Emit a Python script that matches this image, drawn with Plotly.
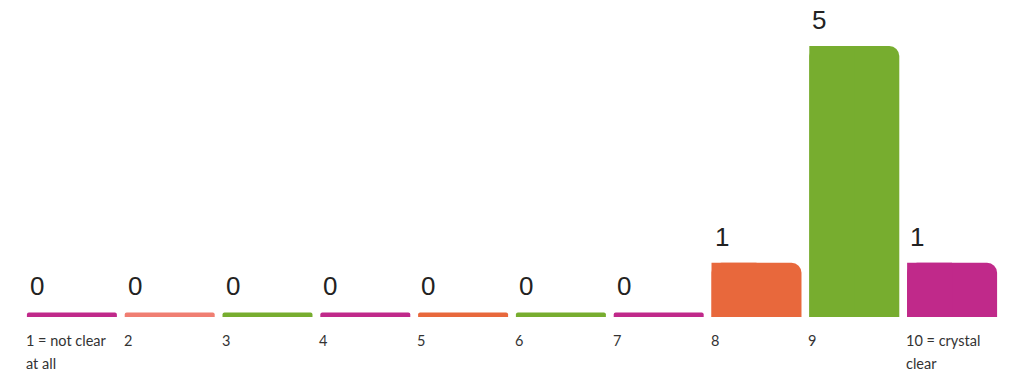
import plotly.graph_objects as go

categories = ["1 = not clear\nat all", "2", "3", "4", "5", "6", "7", "8", "9", "10 = crystal\nclear"]
values = [0, 0, 0, 0, 0, 0, 0, 1, 5, 1]
colors = ["#C0298A", "#F07E72", "#77AD2F", "#C0298A", "#E8683C",
          "#77AD2F", "#C0298A", "#E8683C", "#77AD2F", "#C0298A"]

BAR_W = 0.92
STUB = 0.085  # visual height of zero-value markers (data units)

xs = list(range(len(categories)))
fig = go.Figure()

# main bars (rounded top corners)
fig.add_trace(go.Bar(
    x=xs, y=values, width=BAR_W, marker=dict(color=colors, cornerradius=10, line_width=0),
    hoverinfo="skip"))
# left-half overlay to square the top-left corner
fig.add_trace(go.Bar(
    x=xs, y=values, width=BAR_W / 2, offset=-BAR_W / 2,
    marker=dict(color=colors, cornerradius=0, line_width=0), hoverinfo="skip"))
# zero-value markers
fig.add_trace(go.Bar(
    x=xs, y=[STUB if v == 0 else None for v in values], width=BAR_W,
    marker=dict(color=colors, cornerradius=2, line_width=0), hoverinfo="skip"))

annotations = []
for i, (c, v) in enumerate(zip(categories, values)):
    top = v if v > 0 else STUB
    annotations.append(dict(
        x=i - BAR_W / 2, y=top, xref="x", yref="y", text=str(v), showarrow=False,
        xanchor="left", yanchor="middle", xshift=1, yshift=26,
        font=dict(family="Liberation Sans, Arial", size=26, color="#222222")))
    for j, line in enumerate(c.split("\n")):
        annotations.append(dict(
            x=i - BAR_W / 2, y=0, xref="x", yref="y", text=line, showarrow=False,
            xanchor="left", yanchor="middle", xshift=-3, yshift=-23 - 23 * j,
            font=dict(family="Lato, Noto Sans", size=14.5, color="#333333")))

fig.update_layout(
    width=1024, height=392, barmode="overlay",
    margin=dict(l=23, r=23, t=46, b=75),
    paper_bgcolor="white", plot_bgcolor="white",
    showlegend=False, annotations=annotations,
    xaxis=dict(range=[-0.5, len(categories) - 0.5], visible=False, fixedrange=True),
    yaxis=dict(range=[0, 5], visible=False, fixedrange=True),
)
fig.update_traces(cliponaxis=False)

fig.write_html("out.html", config={"displayModeBar": False})
